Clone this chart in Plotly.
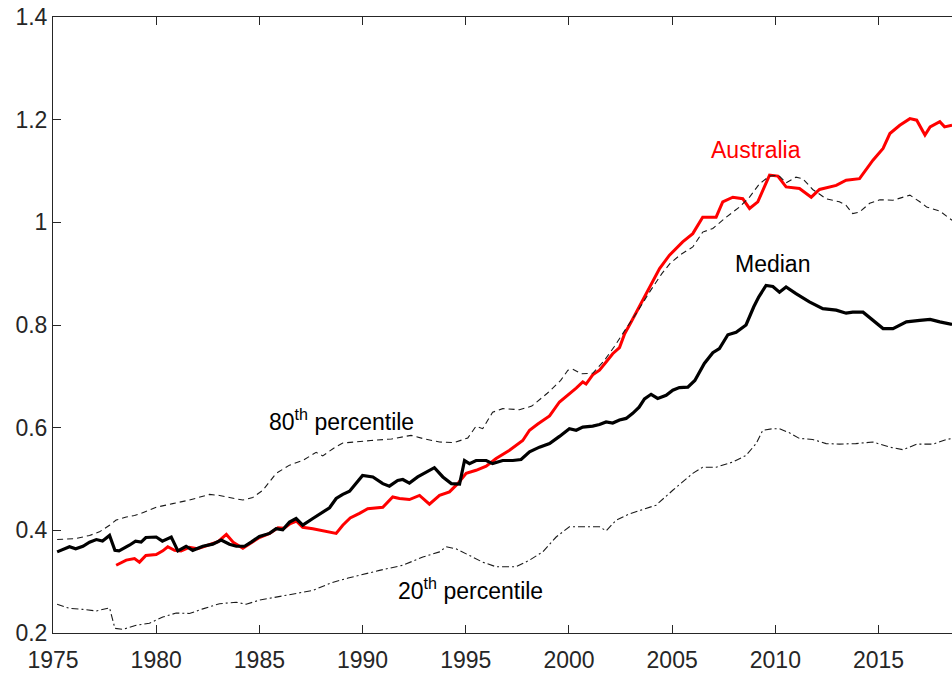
import plotly.graph_objects as go

# ---------------- data ----------------
median_x = [1975.2, 1975.8, 1976.1, 1976.45, 1976.77, 1977.1, 1977.4, 1977.74, 1978.0, 1978.2,
            1978.7, 1979.0, 1979.27, 1979.5, 1980.0, 1980.3, 1980.73, 1981.05, 1981.45, 1981.77,
            1982.26, 1982.74, 1983.15, 1983.55, 1983.88, 1984.28, 1984.6, 1985.0, 1985.49, 1985.81,
            1986.13, 1986.46, 1986.78, 1987.1, 1987.59, 1988.07, 1988.4, 1988.72, 1989.04, 1989.37,
            1989.6, 1990.0, 1990.5, 1990.98, 1991.3, 1991.7, 1991.95, 1992.27, 1992.67, 1993.08,
            1993.48, 1993.89, 1994.3, 1994.7, 1994.94, 1995.18, 1995.5, 1995.99, 1996.3, 1996.79,
            1997.28, 1997.68, 1998.09, 1998.57, 1999.06, 1999.54, 2000.02, 2000.35, 2000.67, 2001.15,
            2001.48, 2001.8, 2002.12, 2002.45, 2002.77, 2003.09, 2003.4, 2003.66, 2003.98, 2004.3,
            2004.71, 2005.03, 2005.35, 2005.76, 2006.1, 2006.56, 2006.97, 2007.29, 2007.7, 2008.1,
            2008.58, 2008.95, 2009.2, 2009.55, 2009.88, 2010.2, 2010.52, 2011.0, 2011.65, 2012.3,
            2012.95, 2013.43, 2013.75, 2014.25, 2014.73, 2015.22, 2015.7, 2016.35, 2017.0, 2017.5,
            2017.97, 2018.56]
median_y = [0.358, 0.368, 0.364, 0.369, 0.377, 0.382, 0.379, 0.390, 0.361, 0.360,
            0.371, 0.379, 0.377, 0.386, 0.387, 0.379, 0.387, 0.360, 0.369, 0.361,
            0.369, 0.373, 0.381, 0.373, 0.369, 0.369, 0.377, 0.388, 0.394, 0.403,
            0.401, 0.416, 0.423, 0.410, 0.423, 0.436, 0.444, 0.462, 0.470, 0.476,
            0.488, 0.507, 0.504, 0.491, 0.486, 0.497, 0.499, 0.492, 0.504, 0.514,
            0.522, 0.504, 0.491, 0.490, 0.536, 0.530, 0.536, 0.536, 0.530, 0.536,
            0.536, 0.538, 0.553, 0.562, 0.569, 0.583, 0.598, 0.595, 0.601, 0.603,
            0.606, 0.611, 0.609, 0.615, 0.618, 0.628, 0.640, 0.656, 0.665, 0.657,
            0.663, 0.673, 0.678, 0.679, 0.692, 0.725, 0.746, 0.754, 0.781, 0.786,
            0.800, 0.835, 0.855, 0.877, 0.875, 0.864, 0.874, 0.861, 0.845, 0.832,
            0.829, 0.823, 0.825, 0.825, 0.809, 0.793, 0.793, 0.806, 0.809, 0.811,
            0.806, 0.801]

aus_x = [1978.06, 1978.55, 1978.95, 1979.19, 1979.5, 1980.0, 1980.32, 1980.56, 1980.89, 1981.2,
         1981.6, 1982.0, 1982.5, 1983.0, 1983.4, 1983.75, 1984.2, 1984.6, 1985.0, 1985.5,
         1985.9, 1986.2, 1986.5, 1986.8, 1987.1, 1987.59, 1988.07, 1988.4, 1988.72, 1989.04,
         1989.4, 1989.85, 1990.25, 1990.98, 1991.46, 1991.79, 1992.27, 1992.76, 1993.24, 1993.73,
         1994.21, 1994.61, 1995.02, 1995.5, 1995.99, 1996.47, 1997.12, 1997.76, 1998.09, 1998.49,
         1999.06, 1999.54, 2000.02, 2000.35, 2000.67, 2000.83, 2001.15, 2001.48, 2001.8, 2002.12,
         2002.45, 2002.7, 2003.0, 2003.4, 2003.9, 2004.39, 2004.87, 2005.51, 2006.0, 2006.48,
         2007.13, 2007.45, 2007.94, 2008.42, 2008.75, 2009.15, 2009.72, 2010.12, 2010.52, 2011.17,
         2011.74, 2012.14, 2012.95, 2013.43, 2014.08, 2014.33, 2014.73, 2015.22, 2015.55, 2016.03,
         2016.52, 2016.85, 2017.25, 2017.5, 2017.97, 2018.2, 2018.56]
aus_y = [0.332, 0.342, 0.345, 0.338, 0.351, 0.353, 0.360, 0.368, 0.361, 0.360,
         0.367, 0.364, 0.371, 0.378, 0.392, 0.376, 0.365, 0.375, 0.386, 0.394,
         0.405, 0.404, 0.413, 0.418, 0.406, 0.403, 0.399, 0.397, 0.394, 0.410,
         0.424, 0.433, 0.442, 0.445, 0.465, 0.462, 0.460, 0.468, 0.451, 0.468,
         0.475, 0.491, 0.511, 0.517, 0.525, 0.540, 0.556, 0.575, 0.595, 0.607,
         0.623, 0.650, 0.665, 0.677, 0.689, 0.685, 0.703, 0.712, 0.728, 0.744,
         0.756, 0.783, 0.805, 0.835, 0.874, 0.910, 0.936, 0.962, 0.978, 1.010,
         1.010, 1.040, 1.049, 1.046, 1.027, 1.040, 1.092, 1.090, 1.069, 1.066,
         1.049, 1.064, 1.072, 1.082, 1.085, 1.098, 1.121, 1.144, 1.173, 1.189,
         1.202, 1.199, 1.170, 1.186, 1.196, 1.186, 1.189]

p80_x = [1975.2, 1976.1, 1976.77, 1977.25, 1977.74, 1978.06, 1978.55, 1978.95, 1979.27, 1979.67,
         1980.0, 1980.8, 1981.61, 1982.58, 1983.07, 1983.55, 1984.2, 1984.68, 1985.17, 1985.81,
         1986.46, 1987.1, 1987.75, 1988.07, 1988.6, 1989.04, 1989.5, 1990.4, 1991.4, 1992.35,
         1993.0, 1993.73, 1994.45, 1995.1, 1995.5, 1995.82, 1996.3, 1996.79, 1997.6, 1998.2,
         1998.95, 1999.6, 1999.95, 2000.18, 2000.6, 2001.15, 2001.7, 2002.2, 2002.7, 2003.3,
         2003.95, 2004.5, 2004.9, 2005.4, 2006.0, 2006.48, 2006.97, 2007.62, 2008.27, 2008.75,
         2009.23, 2009.72, 2010.15, 2010.52, 2011.0, 2011.33, 2011.81, 2012.46, 2013.1, 2013.43,
         2013.75, 2014.08, 2014.57, 2015.06, 2015.7, 2016.52, 2017.0, 2017.33, 2017.97, 2018.56]
p80_y = [0.382, 0.384, 0.390, 0.397, 0.410, 0.420, 0.426, 0.429, 0.433, 0.439,
         0.445, 0.452, 0.459, 0.470, 0.468, 0.464, 0.459, 0.464, 0.478, 0.511,
         0.527, 0.536, 0.552, 0.545, 0.560, 0.570, 0.572, 0.575, 0.578, 0.585,
         0.578, 0.572, 0.571, 0.580, 0.603, 0.598, 0.630, 0.637, 0.635, 0.642,
         0.667, 0.692, 0.712, 0.714, 0.705, 0.706, 0.730, 0.758, 0.789, 0.825,
         0.867, 0.900, 0.920, 0.937, 0.952, 0.981, 0.988, 1.010, 1.030, 1.049,
         1.075, 1.090, 1.092, 1.077, 1.088, 1.085, 1.064, 1.046, 1.040, 1.033,
         1.017, 1.020, 1.037, 1.044, 1.043, 1.053, 1.040, 1.030, 1.022, 1.004]

p20_x = [1975.2, 1975.8, 1976.45, 1977.1, 1977.74, 1978.0, 1978.38, 1979.03, 1979.67, 1980.32,
         1980.97, 1981.61, 1982.26, 1983.07, 1983.88, 1984.36, 1985.0, 1985.81, 1986.78, 1987.59,
         1988.5, 1989.3, 1990.82, 1991.95, 1992.92, 1993.73, 1994.05, 1994.53, 1995.18, 1995.82,
         1996.47, 1997.43, 1998.09, 1998.73, 1999.38, 2000.02, 2001.0, 2001.48, 2001.8, 2002.29,
         2002.93, 2003.58, 2004.22, 2005.03, 2006.0, 2006.48, 2007.13, 2007.94, 2008.58, 2009.07,
         2009.39, 2009.88, 2010.2, 2010.68, 2011.17, 2011.81, 2012.46, 2013.1, 2013.9, 2014.73,
         2015.55, 2016.2, 2016.85, 2017.65, 2018.3, 2018.56]
p20_y = [0.256, 0.248, 0.246, 0.243, 0.249, 0.209, 0.207, 0.215, 0.219, 0.231,
         0.239, 0.238, 0.247, 0.257, 0.260, 0.256, 0.264, 0.270, 0.277, 0.283,
         0.298, 0.307, 0.322, 0.332, 0.348, 0.358, 0.368, 0.364, 0.351, 0.338,
         0.329, 0.329, 0.342, 0.358, 0.387, 0.407, 0.407, 0.407, 0.399, 0.420,
         0.432, 0.441, 0.449, 0.478, 0.511, 0.523, 0.523, 0.533, 0.546, 0.569,
         0.595, 0.598, 0.598, 0.590, 0.579, 0.577, 0.569, 0.568, 0.569, 0.572,
         0.562, 0.557, 0.568, 0.568, 0.577, 0.579]

x_ticks = [1975, 1980, 1985, 1990, 1995, 2000, 2005, 2010, 2015]
y_ticks = [0.2, 0.4, 0.6, 0.8, 1.0, 1.2, 1.4]
y_tick_labels = ["0.2", "0.4", "0.6", "0.8", "1", "1.2", "1.4"]

# ---------------- figure ----------------
FONT = "Liberation Sans, Arial, Helvetica, sans-serif"
AX = "#262626"

fig = go.Figure()
fig.add_trace(go.Scatter(x=aus_x, y=aus_y, mode="lines",
                         line=dict(color="#ff0000", width=3)))
fig.add_trace(go.Scatter(x=median_x, y=median_y, mode="lines",
                         line=dict(color="#000000", width=3.2)))
fig.add_trace(go.Scatter(x=p80_x, y=p80_y, mode="lines",
                         line=dict(color="#1a1a1a", width=1.1, dash="6px,4px")))
fig.add_trace(go.Scatter(x=p20_x, y=p20_y, mode="lines",
                         line=dict(color="#1a1a1a", width=1.1, dash="7px,3px,2px,3px")))

ann_font = dict(family=FONT, size=23, color="#000000")
fig.add_annotation(x=2009.04, y=1.14, text="Australia", showarrow=False,
                   font=dict(family=FONT, size=23, color="#ff0000"))
fig.add_annotation(x=2009.85, y=0.918, text="Median", showarrow=False, font=ann_font)
fig.add_annotation(x=1988.96, y=0.614, text="80<sup>th</sup> percentile", showarrow=False, font=ann_font)
fig.add_annotation(x=1995.22, y=0.285, text="20<sup>th</sup> percentile", showarrow=False, font=ann_font)

fig.update_layout(
    width=952, height=675,
    margin=dict(l=53, r=0, t=17, b=42),
    paper_bgcolor="white", plot_bgcolor="white",
    showlegend=False,
    font=dict(family=FONT, size=23, color=AX),
)
fig.update_xaxes(range=[1975, 2018.56], tickvals=x_ticks, ticktext=[str(v) for v in x_ticks],
                 automargin=False, ticklabeloverflow="allow",
                 showgrid=False, zeroline=False, showline=True, linecolor=AX, linewidth=1,
                 mirror="ticks", ticks="inside", ticklen=8, tickcolor=AX, ticklabelstandoff=6,
                 tickfont=dict(family=FONT, size=23, color=AX))
fig.update_yaxes(range=[0.2, 1.4], tickvals=y_ticks, ticktext=y_tick_labels,
                 automargin=False, ticklabeloverflow="allow",
                 showgrid=False, zeroline=False, showline=True, linecolor=AX, linewidth=1,
                 mirror=False, ticks="inside", ticklen=8, tickcolor=AX,
                 tickfont=dict(family=FONT, size=23, color=AX))

# remove the browser's default 8px body margin so the figure sits at the page origin
fig.write_html("out.html", config={"displayModeBar": False},
               post_script="document.body.style.margin='0';document.body.style.overflow='hidden';")
